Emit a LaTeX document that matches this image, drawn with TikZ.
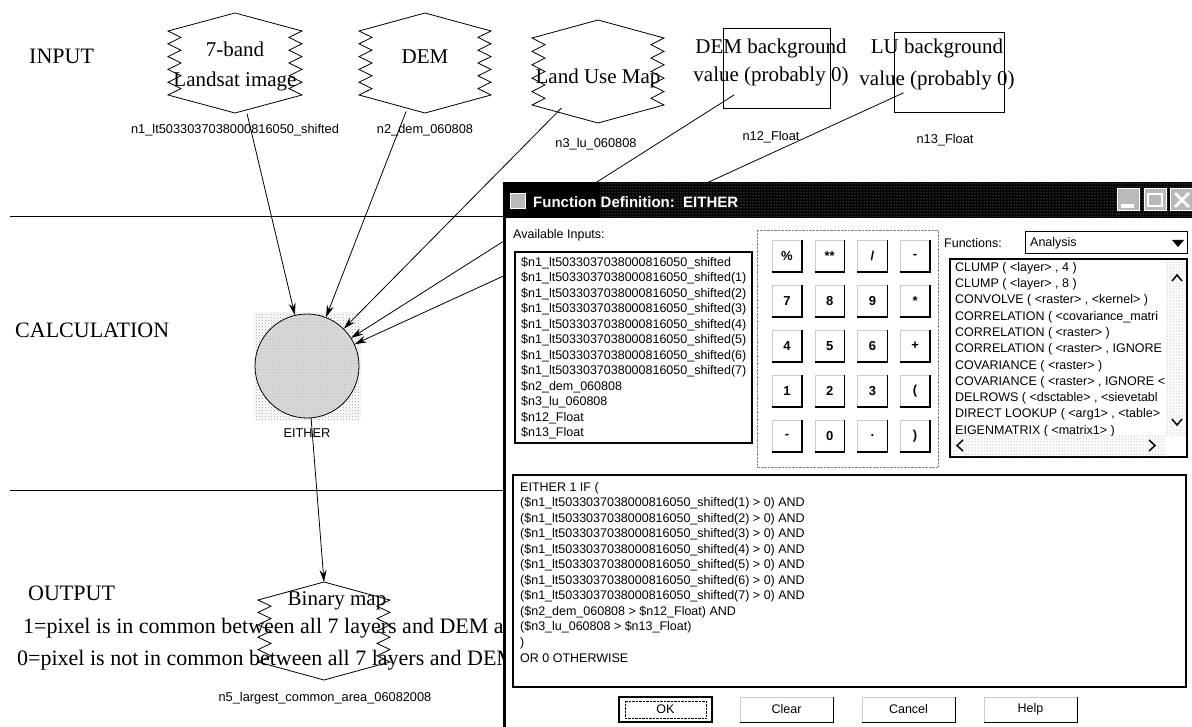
\documentclass[tikz,border=0pt]{standalone}
\usepackage{fontspec}
\setmainfont{Liberation Serif}
\newfontfamily\ui{Liberation Sans}
\usetikzlibrary{arrows.meta,patterns}
\newcommand\rhex[4]{%
  \draw[shape line] ({#1},{#2}) -- ({#1+#4},{#2+18})
    \foreach \k in {1,...,10}{ -- ({#1+#4-mod(\k,2)*13},{#2+18+\k*(#3-#2-36)/10}) }
    -- ({#1},{#3}) -- ({#1-#4},{#3-18})
    \foreach \k in {1,...,10}{ -- ({#1-#4+mod(\k,2)*13},{#3-18-\k*(#3-#2-36)/10}) }
    -- cycle;}
\begin{document}
\begin{tikzpicture}[x=1pt,y=-1pt,
  head/.style={font=\fontsize{22}{26}\selectfont,inner sep=0pt,anchor=west},
  serif/.style={font=\fontsize{21}{30}\selectfont,inner sep=0pt,align=center},
  lab/.style={font=\ui\fontsize{12.8}{15}\selectfont,inner sep=0pt},
  dlg/.style={font=\ui\fontsize{12.5}{15}\selectfont,inner sep=0pt,anchor=west},
  arr/.style={-{Stealth[length=12pt,width=7pt]},line width=0.8pt},
  sepline/.style={line width=1pt},
  shape line/.style={line width=0.8pt},
  key/.style={font=\ui\bfseries\fontsize{13}{15}\selectfont,inner sep=0pt},
  btn/.style={font=\ui\fontsize{12.5}{15}\selectfont,inner sep=0pt},
  outtext/.style={anchor=west,font=\fontsize{22}{26}\selectfont,inner sep=0pt},
]
\useasboundingbox (0,0) rectangle (1192,727);
\fill[white] (0,0) rectangle (1192,727);

% section titles and separators
\node[head] (tin) at (29,56) {INPUT};
\node[head] (tcalc) at (15,330) {CALCULATION};
\node[head] (tout) at (28,593) {OUTPUT};
\coordinate (s1a) at (10,217); \coordinate (s1b) at (503,217);
\coordinate (s2a) at (10,490); \coordinate (s2b) at (503,490);
\draw[sepline] (s1a) -- (s1b);
\draw[sepline] (s2a) -- (s2b);

% input rasters
\rhex{235}{13}{113}{67}
\rhex{425}{13}{113}{66}
\rhex{598}{20}{123}{66}
\node[serif] (t1) at (235,66) {7-band\\Landsat image};
\node[serif] (t2) at (425,57) {DEM};
\node[serif] (t3) at (598,78) {Land Use Map};
\coordinate (c1) at (235,63);
\coordinate (c2) at (425,63);
\coordinate (c3) at (598,71);

% scalar boxes
\node[draw,shape line,minimum width=107pt,minimum height=80pt,inner sep=0pt] (b12) at (776.5,68) {};
\node[draw,shape line,minimum width=110pt,minimum height=80pt,inner sep=0pt] (b13) at (949,72) {};
\node[serif,font=\fontsize{21}{28}\selectfont] (t12) at (771,62) {DEM background\\value (probably 0)};
\node[serif,font=\fontsize{21}{32}\selectfont] (t13) at (937,64) {LU background\\value (probably 0)};

% labels
\node[lab] (l1) at (235,130) {n1\_lt5033037038000816050\_shifted};
\node[lab] (l2) at (425,130) {n2\_dem\_060808};
\node[lab] (l3) at (596,144) {n3\_lu\_060808};
\node[lab] (l12) at (771,137) {n12\_Float};
\node[lab] (l13) at (945,140) {n13\_Float};

% function circle
\fill[pattern=crosshatch dots,pattern color=gray!75] (254,313) rectangle (361,419);
\node[circle,draw,shape line,minimum size=104pt,inner sep=0pt,fill=gray!30] (calc) at (307,366) {};
\fill[pattern=dots,pattern color=gray!80] (307,366) circle (51);
\node[lab] (le) at (307,433) {EITHER};

% connectors into the function
\draw[arr,shorten <=52pt] (c1) -- (calc);
\draw[arr,shorten <=52pt] (c2) -- (calc);
\draw[arr,shorten <=52pt] (c3) -- (calc);
\draw[arr,shorten <=50pt] (b12.center) -- (calc);
\draw[arr,shorten <=50pt] (b13.center) -- (calc);

% output
\rhex{324}{582}{680}{66}
\coordinate (h5top) at (324,582);
\draw[arr] (calc) -- (h5top);
\node[serif] (t5) at (337,601) {Binary map};
\node[outtext] (o1) at (23,628) {1=pixel is in common between all 7 layers and DEM and};
\node[outtext] (o0) at (17,660) {0=pixel is not in common between all 7 layers and DEM};
\node[lab] (l5) at (325,698) {n5\_largest\_common\_area\_06082008};

% ===== dialog =====
\fill[white] (503,182) rectangle (1192,727);
\fill[black] (503,182) rectangle (1192,218);
\fill[pattern=dots,pattern color=gray!55] (600,183) rectangle (1192,217);
\draw[line width=3pt] (504.5,182) -- (504.5,727);
\node[draw=white,fill=gray!55,minimum size=15pt,inner sep=0pt] (icon) at (518,201) {};
\node[anchor=west,text=white,font=\ui\bfseries\fontsize{15}{17}\selectfont,inner sep=0pt] (ttl) at (533,202) {Function Definition:\ \ EITHER};
\node[draw=white,line width=1pt,fill=gray!55,minimum width=22pt,minimum height=22pt,inner sep=0pt] (bmin) at (1128.5,200) {};
\fill[white] (1121,204) rectangle (1134,208);
\node[draw=white,line width=1pt,fill=gray!55,minimum width=22pt,minimum height=22pt,inner sep=0pt] (bmax) at (1155,200) {};
\draw[white,line width=1.2pt] (1148,194) rectangle (1162,206);
\node[draw=white,line width=1pt,fill=gray!55,minimum width=24pt,minimum height=22pt,inner sep=0pt] (bcls) at (1182,200) {};
\draw[white,line width=2.5pt] (1175,193) -- (1189,207) (1175,207) -- (1189,193);

% available inputs
\node[dlg] (avl) at (513,235) {Available Inputs:};
\draw[line width=1.2pt] (515,252) rectangle (752,443);
\begin{scope}
\clip (516,253) rectangle (751,442);
\node[dlg] (in0) at (521,263) {\$n1\_lt5033037038000816050\_shifted};
\foreach \i in {1,...,7}
  \node[dlg] (in\i) at (521,{263+15.5*\i}) {\$n1\_lt5033037038000816050\_shifted(\i)};
\node[dlg] (in8) at (521,387) {\$n2\_dem\_060808};
\node[dlg] (in9) at (521,402.5) {\$n3\_lu\_060808};
\node[dlg] (in10) at (521,418) {\$n12\_Float};
\node[dlg] (in11) at (521,433.5) {\$n13\_Float};
\end{scope}

% keypad
\draw[gray,densely dotted] (757,230) rectangle (938,467);
\foreach \lab [count=\kk from 0] in {{\%},{**},{/},{-},{7},{8},{9},{*},{4},{5},{6},{+},{1},{2},{3},{(},{-},{0},{.},{)}} {
  \pgfmathtruncatemacro\col{mod(\kk,4)}
  \pgfmathtruncatemacro\row{int(\kk/4)}
  \pgfmathsetmacro\xl{772+\col*42.7}
  \pgfmathsetmacro\yt{240+\row*45}
  \draw[gray!40] (\xl,{\yt+32}) -- (\xl,\yt) -- ({\xl+30},\yt);
  \draw[line width=1.3pt] (\xl,{\yt+32}) -- ({\xl+30},{\yt+32}) -- ({\xl+30},\yt);
  \node[key] (k\kk) at ({\xl+15},{\yt+16}) {\lab};
}

% functions
\node[dlg] (fnl) at (944,243) {Functions:};
\draw[line width=1pt] (1025,232) rectangle (1187,254);
\node[dlg] (fna) at (1030,243) {Analysis};
\fill (1172,240) -- (1184,240) -- (1178,247) -- cycle;
\draw[line width=1.2pt] (950,259) rectangle (1187,457);
\begin{scope}
\clip (951,260) rectangle (1166,435);
\foreach \f [count=\j from 0] in {{CLUMP ( <layer> , 4 )},{CLUMP ( <layer> , 8 )},{CONVOLVE ( <raster> , <kernel> )},{CORRELATION ( <covariance\_matri},{CORRELATION ( <raster> )},{CORRELATION ( <raster> , IGNORE},{COVARIANCE ( <raster> )},{COVARIANCE ( <raster> , IGNORE <},{DELROWS ( <dsctable> , <sievetabl},{DIRECT LOOKUP ( <arg1> , <table>},{EIGENMATRIX ( <matrix1> )}}
  \node[dlg] (fn\j) at (955,{268+16.3*\j}) {\f};
\end{scope}
\fill[pattern=dots,pattern color=gray] (1166,260) rectangle (1186,435);
\draw[line width=1.5pt] (1172,281) -- (1177,275) -- (1182,281);
\draw[line width=1.5pt] (1172,419) -- (1177,425) -- (1182,419);
\fill[pattern=dots,pattern color=gray] (951,435) rectangle (1166,456);
\draw[line width=1.5pt] (963,440) -- (957,445.5) -- (963,451);
\draw[line width=1.5pt] (1149,440) -- (1155,445.5) -- (1149,451);

% expression
\draw[line width=1.2pt] (513,475) rectangle (1186,687);
\node[dlg] (ex0) at (520,488) {EITHER 1 IF (};
\foreach \i in {1,...,7}
  \node[dlg] (ex\i) at (520,{488+15.5*\i}) {(\$n1\_lt5033037038000816050\_shifted(\i) > 0) AND};
\node[dlg] (ex8) at (520,612) {(\$n2\_dem\_060808 > \$n12\_Float) AND};
\node[dlg] (ex9) at (520,627.5) {(\$n3\_lu\_060808 > \$n13\_Float)};
\node[dlg] (ex10) at (520,643) {)};
\node[dlg] (ex11) at (520,658.5) {OR 0 OTHERWISE};

% buttons
\node[draw,line width=1.8pt,minimum width=93pt,minimum height=25pt,inner sep=0pt,btn] (bok) at (665.5,709.5) {OK};
\draw[densely dotted] (625,701) rectangle (706,718);
\foreach \b/\x/\nm in {Clear/786.5/bcl,Cancel/908.5/bca,Help/1030.5/bhe} {
  \node[btn,minimum width=93pt,minimum height=25pt,inner sep=0pt] (\nm) at (\x,709.5) {\b};
  \draw[gray!40] (\nm.south west) -- (\nm.north west) -- (\nm.north east);
  \draw[line width=1.3pt] (\nm.south west) -- (\nm.south east) -- (\nm.north east);
}
\end{tikzpicture}
\end{document}
